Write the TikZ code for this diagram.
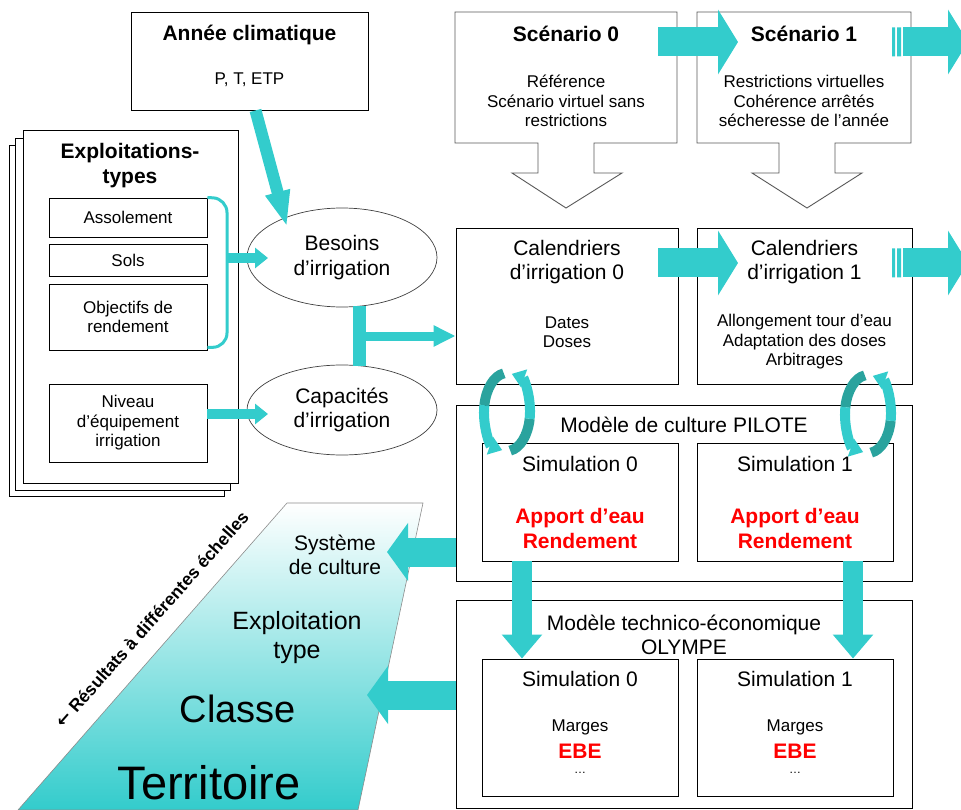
\documentclass[tikz,border=0pt]{standalone}
\usepackage{fontspec}
\setmainfont{Liberation Sans}
\newfontfamily\fleches{DejaVu Sans}
\usepackage{tikz}
\usetikzlibrary{arrows.meta,shapes.geometric}
\definecolor{turq}{HTML}{33CCCC}
\definecolor{sarcelle}{HTML}{2AA39E}
\tikzstyle{cadre}=[draw=black,line width=0.9pt,fill=white,inner sep=0pt]
\tikzstyle{feuille}=[cadre,minimum width=215pt]
\tikzstyle{petit}=[cadre,minimum width=158pt,font=\fontsize{17}{19.5}\selectfont,align=center]
\tikzstyle{appel}=[draw=black!65,line width=0.9pt,fill=white,line join=miter]
\tikzstyle{bulle}=[ellipse,draw=black!75,line width=0.7pt,fill=white,minimum width=190pt,align=center,inner sep=0pt,font=\fontsize{21}{24.5}\selectfont]
\tikzstyle{titre}=[font=\bfseries\fontsize{21}{25}\selectfont,align=center,inner sep=0pt]
\tikzstyle{texte}=[font=\fontsize{17}{19.5}\selectfont,align=center,inner sep=0pt]
\tikzstyle{moyen}=[font=\fontsize{21}{23.5}\selectfont,align=center,inner sep=0pt]
\tikzstyle{rouge}=[font=\bfseries\fontsize{21}{25}\selectfont,text=red,align=center,inner sep=0pt]
\tikzstyle{bloc}=[draw=turq,line width=29pt,-{Triangle[width=64pt,length=20pt]}]
\tikzstyle{retour}=[draw=turq,line width=29pt,-{Triangle[width=57pt,length=21pt]}]
\tikzstyle{descente}=[draw=turq,line width=20pt,-{Triangle[width=39pt,length=24pt]}]
\tikzstyle{flechette}=[draw=turq,line width=9.5pt,-{Triangle[width=20pt,length=13pt]}]

\begin{document}
\begin{tikzpicture}[x=1pt,y=-1pt]
  \useasboundingbox (0,0) rectangle (961,810);

  % donnees d'entree
  \node[cadre,minimum width=237pt,minimum height=98pt] (annee) at (249.5,61) {};
  \node[titre] (anneeT) at (249.5,35) {Année climatique};
  \node[texte] (anneeP) at (249.5,80) {P, T, ETP};

  \node[feuille,minimum height=351pt] (pile3) at (116.5,320.5) {};
  \node[feuille,minimum height=352pt] (pile2) at (122.5,314) {};
  \node[feuille,minimum height=353pt] (pile1) at (130.5,306.5) {};
  \node[titre] (pileT) at (130,166) {Exploitations-\\types};
  \node[petit,minimum height=39pt] (assol) at (128,217.5) {Assolement};
  \node[petit,minimum height=32pt] (sols) at (128,260) {Sols};
  \node[petit,minimum height=66pt] (objectif) at (128,317) {Objectifs de\\rendement};
  \node[petit,minimum height=78pt] (niveau) at (128,423) {Niveau\\d’équipement\\irrigation};

  \node[bulle,minimum height=99pt] (besoins) at (342,257.5) {Besoins\\d’irrigation};
  \node[bulle,minimum height=90pt] (capacites) at (342,410) {Capacités\\d’irrigation};

  % scenarios
  \draw[appel] (455,12) -- (677,12) -- (677,143) -- (594,143) -- (594,173) -- (622,173)
    -- (566,208) -- (512,173) -- (538,173) -- (538,143) -- (455,143) -- cycle;
  \draw[appel] (697,12) -- (911,12) -- (911,143) -- (835,143) -- (835,173) -- (862,173)
    -- (807,208) -- (752,173) -- (779,173) -- (779,143) -- (697,143) -- cycle;
  \node[titre] (scen0T) at (566,34) {Scénario 0};
  \node[texte] (scen0P) at (566,101) {Référence\\Scénario virtuel sans\\restrictions};
  \node[titre] (scen1T) at (804,34) {Scénario 1};
  \node[texte] (scen1P) at (804,101) {Restrictions virtuelles\\Cohérence arrêtés\\sécheresse de l’année};

  % calendriers
  \node[cadre,minimum width=222pt,minimum height=156pt] (cal0) at (567,306) {};
  \node[moyen] (cal0T) at (567,262) {Calendriers\\d’irrigation 0};
  \node[texte] (cal0P) at (567,332) {Dates\\Doses};
  \node[cadre,minimum width=215pt,minimum height=156pt] (cal1) at (804.5,306) {};
  \node[moyen] (cal1T) at (804.5,262) {Calendriers\\d’irrigation 1};
  \node[texte] (cal1P) at (804.5,342) {Allongement tour d’eau\\Adaptation des doses\\Arbitrages};

  % PILOTE
  \node[cadre,minimum width=456pt,minimum height=176pt] (pilote) at (684,493) {};
  \node[moyen] (piloteT) at (684,425) {Modèle de culture PILOTE};
  \node[cadre,minimum width=196pt,minimum height=118pt] (psim0) at (580,502) {};
  \node[moyen] (psim0T) at (580,464) {Simulation 0};
  \node[rouge] (psim0R) at (580,528) {Apport d’eau\\Rendement};
  \node[cadre,minimum width=196pt,minimum height=118pt] (psim1) at (795,502) {};
  \node[moyen] (psim1T) at (795,464) {Simulation 1};
  \node[rouge] (psim1R) at (795,528) {Apport d’eau\\Rendement};

  % OLYMPE
  \node[cadre,minimum width=456pt,minimum height=208pt] (olympe) at (684,704) {};
  \node[moyen] (olympeT) at (684,635) {Modèle technico-économique\\OLYMPE};
  \node[cadre,minimum width=196pt,minimum height=137pt] (osim0) at (580,727.5) {};
  \node[moyen] (osim0T) at (580,679) {Simulation 0};
  \node[texte] (osim0M) at (580,727) {Marges};
  \node[rouge] (osim0E) at (580,751) {EBE};
  \node[texte,font=\fontsize{12}{14}\selectfont] (osim0S) at (580,773) {…};
  \node[cadre,minimum width=196pt,minimum height=137pt] (osim1) at (795,727.5) {};
  \node[moyen] (osim1T) at (795,679) {Simulation 1};
  \node[texte] (osim1M) at (795,727) {Marges};
  \node[rouge] (osim1E) at (795,751) {EBE};
  \node[texte,font=\fontsize{12}{14}\selectfont] (osim1S) at (795,773) {…};

  % echelles
  \shade[top color=white,bottom color=turq,draw=black!45,line width=0.6pt]
    (287,503) -- (423,503) -- (358,810) -- (18,810) -- cycle;
  \node[moyen,font=\fontsize{21}{24}\selectfont] (systeme) at (335,555) {Système\\de culture};
  \node[moyen,font=\fontsize{25}{29}\selectfont] (exploit) at (297,638) {Exploitation\\type};
  \node[moyen,font=\fontsize{38}{40}\selectfont] (classe) at (238,709) {Classe};
  \node[moyen,font=\fontsize{47}{50}\selectfont] (territoire) at (209,783) {Territoire};
  \node[font=\bfseries\fontsize{17.5}{19}\selectfont,rotate=48.5,inner sep=0pt] (echelles)
    at (152,619) {{\fleches\bfseries ←} Résultats à différentes échelles};

  % fleches
  \draw[draw=turq,line width=12pt,-{Triangle[width=23pt,length=36pt]}]
    ([xshift=6pt]annee.south) -- (287,227);
  \draw[turq,line width=3pt,rounded corners=14pt]
    (assol.north east) -- (227,198.5) -- (227,347) -- ([yshift=3pt]objectif.south east);
  \coordinate (acc) at (227,258);
  \draw[flechette] (acc) -- (268,258);
  \draw[flechette] ([yshift=9pt]niveau.east) -- (268,414);
  \coordinate (tH) at (359.5,306);
  \coordinate (tB) at (359.5,366);
  \coordinate (tmid) at (359.5,336);
  \draw[turq,line width=13pt] (tH) -- (tB);
  \draw[draw=turq,line width=9pt,-{Triangle[width=20pt,length=22pt]}] (tmid) -- (tmid -| cal0.west);

  \coordinate (sA) at (658,42);
  \coordinate (sC) at (903,42);
  \coordinate (cA) at (658,263);
  \coordinate (cC) at (903,263);
  \draw[bloc] (sA) -- (sA -| 738,0);
  \draw[bloc] (cA) -- (cA -| 738,0);
  \fill[turq] (892,27.5) rectangle (895,56.5) (897,27.5) rectangle (901,56.5);
  \fill[turq] (892,248.5) rectangle (895,277.5) (897,248.5) rectangle (901,277.5);
  \draw[bloc] (sC) -- (sC -| 968,0);
  \draw[bloc] (cC) -- (cC -| 968,0);

  \draw[descente] (psim0.south -| 522,0) -- (osim0.north -| 522,0);
  \draw[descente] (psim1.south -| 853,0) -- (osim1.north -| 853,0);
  \draw[retour] (pilote.west |- 0,552) -- (387,552);
  \draw[retour] (olympe.west |- 0,695) -- (367,695);

  % boucles
  \coordinate (cyc0) at (507,412);
  \coordinate (cyc1) at (868,414);
  \foreach \c in {cyc0,cyc1} {
    \draw[sarcelle,line width=10pt] (\c) ++(262:23 and 39) arc[start angle=262,end angle=190,x radius=23,y radius=39];
    \draw[turq,line width=10pt,-{Triangle[width=18pt,length=13pt]}] (\c) ++(190:23 and 39) arc[start angle=190,end angle=102,x radius=23,y radius=39];
    \draw[sarcelle,line width=10pt] (\c) ++(82:23 and 39) arc[start angle=82,end angle=10,x radius=23,y radius=39];
    \draw[turq,line width=10pt,-{Triangle[width=18pt,length=13pt]}] (\c) ++(10:23 and 39) arc[start angle=10,end angle=-78,x radius=23,y radius=39];
  }
\end{tikzpicture}
\end{document}
